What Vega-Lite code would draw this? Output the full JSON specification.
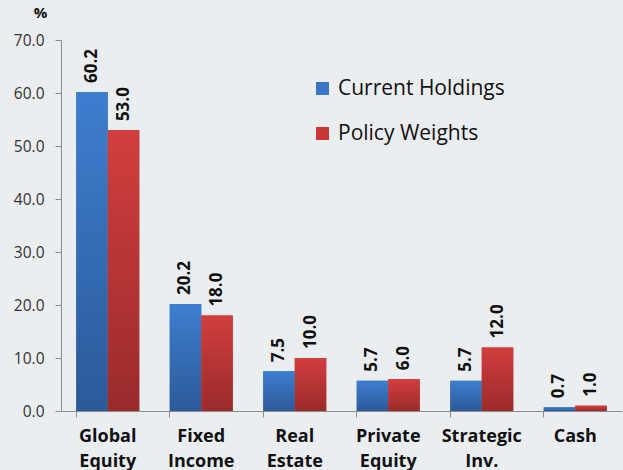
{
  "$schema": "https://vega.github.io/schema/vega-lite/v6.json",
  "width": 561,
  "height": 371,
  "autosize": {"type": "none"},
  "padding": {"left": 61, "top": 40, "right": 1, "bottom": 59},
  "background": "#EBEEF0",
  "config": {
    "view": {"stroke": null},
    "font": "Open Sans",
    "axis": {"domainColor": "#8C8C8C", "tickColor": "#8C8C8C", "grid": false}
  },
  "data": {
    "values": [
      {"category": "Global Equity", "series": "Current Holdings", "value": 60.2},
      {"category": "Global Equity", "series": "Policy Weights", "value": 53.0},
      {"category": "Fixed Income", "series": "Current Holdings", "value": 20.2},
      {"category": "Fixed Income", "series": "Policy Weights", "value": 18.0},
      {"category": "Real Estate", "series": "Current Holdings", "value": 7.5},
      {"category": "Real Estate", "series": "Policy Weights", "value": 10.0},
      {"category": "Private Equity", "series": "Current Holdings", "value": 5.7},
      {"category": "Private Equity", "series": "Policy Weights", "value": 6.0},
      {"category": "Strategic Inv.", "series": "Current Holdings", "value": 5.7},
      {"category": "Strategic Inv.", "series": "Policy Weights", "value": 12.0},
      {"category": "Cash", "series": "Current Holdings", "value": 0.7},
      {"category": "Cash", "series": "Policy Weights", "value": 1.0}
    ]
  },
  "encoding": {
    "x": {
      "field": "category",
      "type": "nominal",
      "sort": null,
      "scale": {"paddingInner": 0.326, "paddingOuter": 0.163},
      "axis": {
        "title": null,
        "labelAngle": 0,
        "bandPosition": 0,
        "tickSize": 6,
        "labelExpr": "split(datum.label, ' ')",
        "labelFont": "Open Sans",
        "labelFontSize": 18,
        "labelFontWeight": "bold",
        "labelColor": "#111111",
        "labelLineHeight": 25,
        "labelPadding": 10
      }
    },
    "xOffset": {
      "field": "series",
      "type": "nominal",
      "sort": ["Current Holdings", "Policy Weights"],
      "scale": {"paddingInner": 0, "paddingOuter": 0}
    },
    "y": {
      "field": "value",
      "type": "quantitative",
      "scale": {"domain": [0, 70], "nice": false},
      "axis": {
        "values": [0, 10, 20, 30, 40, 50, 60, 70],
        "format": ".1f",
        "title": "%",
        "titleAngle": 0,
        "titleX": -21,
        "titleY": -20,
        "titleAlign": "center",
        "titleFont": "Open Sans",
        "titleFontSize": 15,
        "titleFontWeight": "bold",
        "titleColor": "#111111",
        "labelFont": "Open Sans",
        "labelFontSize": 15.5,
        "labelColor": "#333333",
        "tickSize": 6,
        "labelPadding": 11
      }
    }
  },
  "layer": [
    {
      "mark": {"type": "bar"},
      "encoding": {
        "color": {
          "field": "series",
          "type": "nominal",
          "scale": {"domain": ["Current Holdings", "Policy Weights"], "range": ["#3B76C6", "#C93838"]},
          "legend": {
            "title": null,
            "orient": "none",
            "legendX": 251,
            "legendY": 38,
            "symbolType": "square",
            "symbolSize": 170,
            "symbolStrokeWidth": 0,
            "labelFontSize": 21,
            "labelColor": "#111111",
            "labelFont": "Open Sans",
            "labelLimit": 400,
            "rowPadding": 23,
            "labelOffset": 5
          }
        }
      }
    },
    {
      "transform": [{"filter": "datum.series === 'Current Holdings'"}],
      "mark": {
        "type": "bar",
        "color": {
          "gradient": "linear",
          "x1": 0, "y1": 0, "x2": 0, "y2": 1,
          "stops": [{"offset": 0, "color": "#3E7ECF"}, {"offset": 1, "color": "#2B5A98"}]
        }
      }
    },
    {
      "transform": [{"filter": "datum.series === 'Policy Weights'"}],
      "mark": {
        "type": "bar",
        "color": {
          "gradient": "linear",
          "x1": 0, "y1": 0, "x2": 0, "y2": 1,
          "stops": [{"offset": 0, "color": "#D23E3E"}, {"offset": 1, "color": "#9A2B2B"}]
        }
      }
    },
    {
      "mark": {
        "type": "text",
        "angle": 270,
        "align": "left",
        "baseline": "middle",
        "dx": 9,
        "font": "Open Sans",
        "fontSize": 17,
        "fontWeight": "bold",
        "color": "#111111"
      },
      "encoding": {
        "text": {"field": "value", "type": "quantitative", "format": ".1f"}
      }
    }
  ]
}
